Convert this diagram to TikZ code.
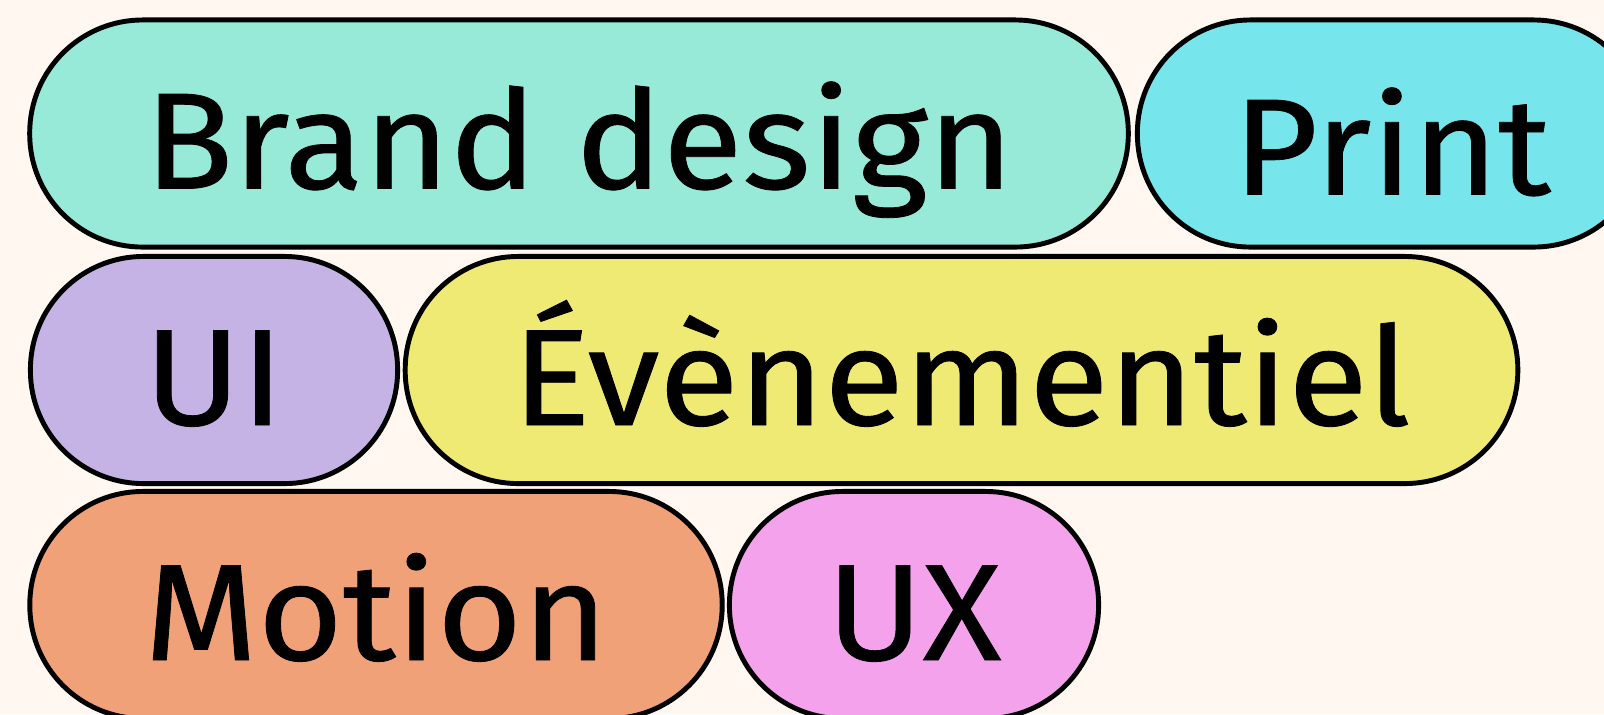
\documentclass[tikz,border=0pt]{standalone}
\usepackage{fontspec}
\usepackage{tikz}
\newfontfamily\pillfont[FakeStretch=1.065,FakeBold=0.6]{Fira Sans}

\definecolor{cream}{HTML}{FFF7F0}
\definecolor{brandteal}{HTML}{96EAD7}
\definecolor{printcyan}{HTML}{77E5EC}
\definecolor{uililac}{HTML}{C5B3E6}
\definecolor{eventyellow}{HTML}{EFEA74}
\definecolor{motionorange}{HTML}{F0A177}
\definecolor{uxpink}{HTML}{F4A2EC}

\tikzset{
  pill/.style={draw=black, line width=1.4pt, rectangle, rounded corners=1.13cm,
    minimum height=2.27cm, inner sep=0pt, text height=1.1cm, text depth=0pt,
    font=\pillfont\fontsize{39}{39}\selectfont}
}

\begin{document}
\begin{tikzpicture}[x=0.01cm,y=-0.01cm]
\useasboundingbox (0,0) rectangle (1604,714);
\clip (0,0) rectangle (1604,714);
\fill[cream] (0,0) rectangle (1604,714);

% row 1
\node[pill, fill=brandteal, minimum width=10.98cm] (brand) at (579,133.5) {Brand design};
\node[pill, fill=printcyan, minimum width=5.09cm, text height=1.22cm] (print) at (1392,133.5) {Print};

% row 2
\node[pill, fill=uililac, minimum width=3.67cm] (ui) at (214,370) {UI};
\node[pill, fill=eventyellow, minimum width=11.12cm] (event) at (961.5,370) {Évènementiel};

% row 3
\node[pill, fill=motionorange, minimum width=6.92cm] (motion) at (376,605) {Motion};
\node[pill, fill=uxpink, minimum width=3.69cm] (ux) at (914,605) {UX};
\end{tikzpicture}
\end{document}
